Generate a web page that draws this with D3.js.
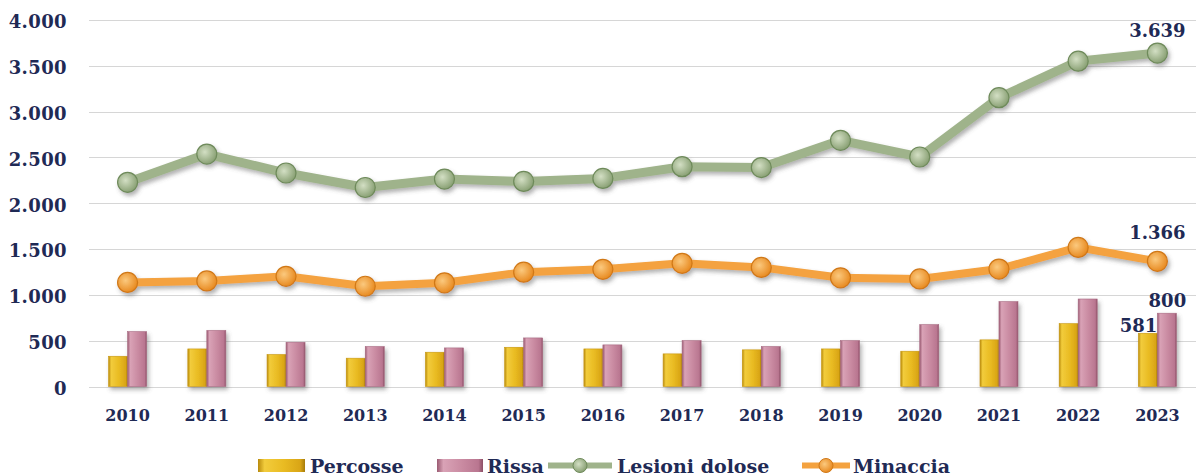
<!DOCTYPE html>
<html>
<head>
<meta charset="utf-8">
<script src="https://cdn.jsdelivr.net/npm/d3@7"></script>
<style>
  body { margin: 0; background: #fff; }
  text { font-family: "DejaVu Serif", "Liberation Serif", serif; font-weight: bold; fill: #1f2a55; }
</style>
</head>
<body>
<script>
// chart size
var width = 1196,
    height = 476;

// data
var years = ['2010','2011','2012','2013','2014','2015','2016','2017','2018','2019','2020','2021','2022','2023'];
var percosse = [330, 410, 349, 309, 374, 428, 410, 356, 400, 410, 385, 509, 686, 581];
var rissa = [599, 612, 483, 436, 421, 530, 454, 501, 436, 501, 675, 926, 955, 800];
var lesioni = [2228, 2537, 2330, 2172, 2264, 2238, 2271, 2399, 2389, 2687, 2505, 3152, 3551, 3639];
var minaccia = [1136, 1152, 1203, 1094, 1132, 1248, 1279, 1344, 1300, 1186, 1174, 1282, 1518, 1366];
var yTicks = [0, 500, 1000, 1500, 2000, 2500, 3000, 3500, 4000];
var legendNames = ['Percosse', 'Rissa', 'Lesioni dolose', 'Minaccia'];

var svg = d3.select('body')
  .append('svg')
  .attr('width', width)
  .attr('height', height);

var defs = svg.append('defs');

// soft shadow under lines and bars
var shadow = defs.append('filter').attr('id', 'shadow')
  .attr('x', '-20%').attr('y', '-20%').attr('width', '150%').attr('height', '160%');
shadow.append('feDropShadow')
  .attr('dx', 2).attr('dy', 3).attr('stdDeviation', 2)
  .attr('flood-color', '#555').attr('flood-opacity', 0.45);

// horizontal gradients for the bevelled bars
function barGradient(id, stops) {
  var g = defs.append('linearGradient').attr('id', id)
    .attr('x1', 0).attr('x2', 1).attr('y1', 0).attr('y2', 0);
  stops.forEach(function(s) {
    g.append('stop').attr('offset', s[0]).attr('stop-color', s[1]);
  });
}
barGradient('gPerc', [[0, '#b88a0c'], [0.14, '#f2cc3c'], [0.55, '#e9bb22'], [0.9, '#d9a516'], [1, '#a67c0a']]);
barGradient('gRiss', [[0, '#9a5a72'], [0.14, '#d9a2b6'], [0.55, '#c98aa1'], [0.9, '#b97690'], [1, '#8c4f66']]);

// radial gradients for the markers
function dotGradient(id, c1, c2) {
  var g = defs.append('radialGradient').attr('id', id)
    .attr('cx', '40%').attr('cy', '40%').attr('r', '60%');
  g.append('stop').attr('offset', 0).attr('stop-color', c1);
  g.append('stop').attr('offset', 1).attr('stop-color', c2);
}
dotGradient('gGreen', '#d3dfc4', '#8aa175');
dotGradient('gOrange', '#fbc97e', '#e88b22');

// scales
var x = d3.scaleBand().domain(years).range([88, 1197]);
var y = d3.scaleLinear().domain([0, 4000]).range([386.5, 20]);
var barW = 19;

function cx(d, i) { return x(years[i]) + x.bandwidth() / 2; }

// gridlines
svg.append('g')
  .selectAll('line')
  .data(yTicks)
  .enter().append('line')
  .attr('x1', 89).attr('x2', 1196)
  .attr('y1', function(d) { return Math.round(y(d)) + 0.5; })
  .attr('y2', function(d) { return Math.round(y(d)) + 0.5; })
  .attr('stroke', '#d6d6d6')
  .attr('stroke-width', 1);

// y axis labels
var yAxis = d3.axisLeft(y)
  .tickValues(yTicks)
  .tickSize(0)
  .tickPadding(0)
  .tickFormat(function(d) { return d3.format(',')(d).replace(/,/g, '.'); });

svg.append('g')
  .attr('transform', 'translate(67,2)')
  .call(yAxis)
  .call(function(g) { g.select('.domain').remove(); })
  .selectAll('text')
  .style('font-size', '18px')
  .style('letter-spacing', '0.4px')
  .style('fill', '#1f2a55')
  .style('font-family', '"DejaVu Serif", serif')
  .style('font-weight', 'bold');

// x axis labels
var xAxis = d3.axisBottom(x).tickSize(0).tickPadding(0);
svg.append('g')
  .attr('transform', 'translate(0,410)')
  .call(xAxis)
  .call(function(g) { g.select('.domain').remove(); })
  .selectAll('text')
  .style('font-size', '16px')
  .style('fill', '#1f2a55')
  .style('font-family', '"DejaVu Serif", serif')
  .style('font-weight', 'bold');

// bars
var bars = svg.append('g').attr('filter', 'url(#shadow)');
bars.selectAll('.perc')
  .data(percosse)
  .enter().append('rect')
  .attr('class', 'perc')
  .attr('x', function(d, i) { return cx(d, i) - barW; })
  .attr('y', function(d) { return y(d); })
  .attr('width', barW)
  .attr('height', function(d) { return y(0) - y(d); })
  .attr('fill', 'url(#gPerc)')
  .attr('stroke', '#c9980f')
  .attr('stroke-width', 0.6);

bars.selectAll('.riss')
  .data(rissa)
  .enter().append('rect')
  .attr('class', 'riss')
  .attr('x', function(d, i) { return cx(d, i); })
  .attr('y', function(d) { return y(d); })
  .attr('width', barW)
  .attr('height', function(d) { return y(0) - y(d); })
  .attr('fill', 'url(#gRiss)')
  .attr('stroke', '#a86a82')
  .attr('stroke-width', 0.6);

// lines with markers
function drawSeries(values, lineColor, grad, dotStroke, lw) {
  var line = d3.line()
    .x(function(d, i) { return cx(d, i); })
    .y(function(d) { return y(d); });
  var g = svg.append('g').attr('filter', 'url(#shadow)');
  g.append('path')
    .datum(values)
    .attr('d', line)
    .attr('fill', 'none')
    .attr('stroke', lineColor)
    .attr('stroke-width', lw)
    .attr('stroke-linejoin', 'round');
  g.selectAll('circle')
    .data(values)
    .enter().append('circle')
    .attr('cx', function(d, i) { return cx(d, i); })
    .attr('cy', function(d) { return y(d); })
    .attr('r', 10)
    .attr('fill', 'url(#' + grad + ')')
    .attr('stroke', dotStroke)
    .attr('stroke-width', 1.2);
}
drawSeries(lesioni, '#9fb38b', 'gGreen', '#6e8a5a', 9);
drawSeries(minaccia, '#f4a23f', 'gOrange', '#d07818', 8);

// value labels on the last year
var fmt = function(d) { return d3.format(',')(d).replace(/,/g, '.'); };
var last = years.length - 1;
var labels = [
  { v: lesioni[last], x: cx(0, last), y: y(lesioni[last]) - 16, a: 'middle' },
  { v: minaccia[last], x: cx(0, last), y: y(minaccia[last]) - 22, a: 'middle' },
  { v: rissa[last], x: cx(0, last) + 10, y: y(rissa[last]) - 6, a: 'middle' },
  { v: percosse[last], x: cx(0, last), y: y(percosse[last]) - 1, a: 'end' }
];
svg.append('g').selectAll('text')
  .data(labels)
  .enter().append('text')
  .attr('x', function(d) { return d.x; })
  .attr('y', function(d) { return d.y; })
  .attr('text-anchor', function(d) { return d.a; })
  .style('font-size', '18px')
  .text(function(d) { return fmt(d.v); });

// legend
var lg = svg.append('g');
lg.append('rect').attr('x', 258).attr('y', 459).attr('width', 47).attr('height', 13).attr('fill', 'url(#gPerc)');
lg.append('rect').attr('x', 437).attr('y', 459).attr('width', 46).attr('height', 13).attr('fill', 'url(#gRiss)');
lg.append('line').attr('x1', 548).attr('x2', 612).attr('y1', 465.5).attr('y2', 465.5)
  .attr('stroke', '#9fb38b').attr('stroke-width', 6);
lg.append('circle').attr('cx', 580).attr('cy', 465.5).attr('r', 7)
  .attr('fill', 'url(#gGreen)').attr('stroke', '#6e8a5a');
lg.append('line').attr('x1', 802).attr('x2', 850).attr('y1', 465.5).attr('y2', 465.5)
  .attr('stroke', '#f4a23f').attr('stroke-width', 6);
lg.append('circle').attr('cx', 826).attr('cy', 465.5).attr('r', 7)
  .attr('fill', 'url(#gOrange)').attr('stroke', '#d07818');

var legendX = [310, 487, 617, 853];
lg.selectAll('text')
  .data(legendNames)
  .enter().append('text')
  .attr('x', function(d, i) { return legendX[i]; })
  .attr('y', 473)
  .style('font-size', '19px')
  .text(function(d) { return d; });
</script>
</body>
</html>
